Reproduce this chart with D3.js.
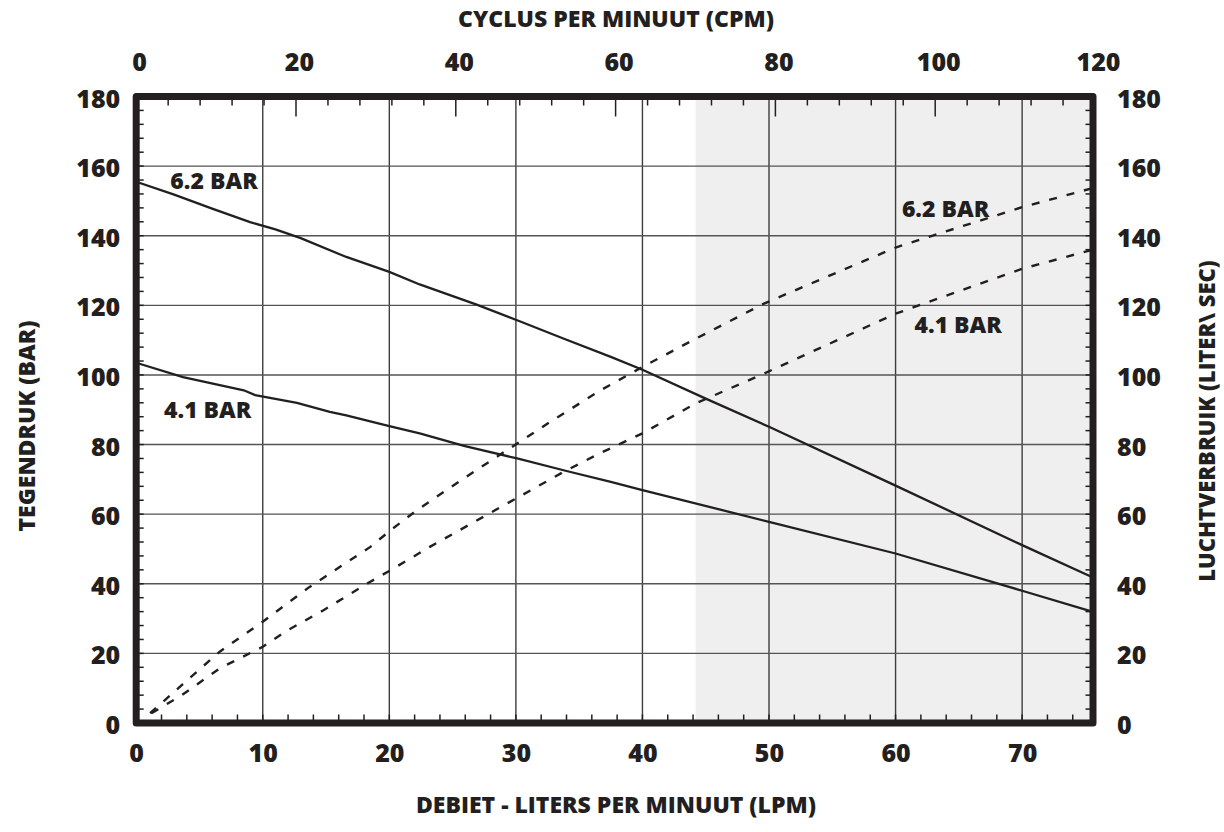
<!DOCTYPE html>
<html>
<head>
<meta charset="utf-8">
<script src="https://cdn.jsdelivr.net/npm/d3@7"></script>
<style>
  html, body { margin: 0; padding: 0; background: #ffffff; }
  svg { display: block; }
  text { font-family: "Open Sans", "DejaVu Sans", sans-serif; font-weight: 800; fill: #231f20; }
</style>
</head>
<body>
<svg id="chart" width="1224" height="832"></svg>
<script>
// Flow (LPM) versus back pressure (BAR) at two inlet air pressures
const pressure62 = [[0,155.5],[3,151.8],[6,147.8],[9,143.9],[11,141.8],[13,139.3],[16.6,133.9],[20,129.6],[22.4,126],[26.9,120.2],[30.1,115.7],[33.8,110.4],[37.5,105.2],[40,101.5],[45,93.2],[50,85.1],[60,68.2],[70,51.1],[75.6,41.8]];
const pressure41 = [[0,103.5],[3.7,99.4],[8.5,95.6],[9.4,94.2],[12.7,92],[15.3,89.4],[16.6,88.4],[20,85.3],[22.4,83.2],[25.9,79.6],[30.1,76],[34,72.4],[37.5,69.3],[40,66.9],[50,57.8],[60,48.7],[70,38],[75.6,31.9]];

// Flow (LPM) versus air consumption (LITER\ SEC)
const air62 = [[1.1,2.8],[3.6,10.9],[6.6,20.5],[10,29.1],[13.7,39.1],[18.5,50.6],[20.1,55.4],[22.2,61.2],[25.9,70.3],[30.1,80.3],[32.7,86.5],[36.7,95.6],[40,102.3],[44.2,110.4],[49.6,120.5],[56.7,131.5],[60,136.6],[63,140.1],[70,148.2],[75.6,153.7]];
const air41 = [[1.2,2.8],[3.6,8],[6.6,15.7],[10,21.9],[11.9,26.5],[14.8,32.4],[18.5,40.6],[20.1,43.9],[23.2,50.6],[30.1,64.7],[34,72.6],[36.7,77.6],[40,83.2],[44.2,91.8],[49.6,100.4],[60,117.6],[70,130.5],[75.6,136]];

// Axis ticks
const flowTicks = [0,10,20,30,40,50,60,70];
const cpmTicks = [0,20,40,60,80,100,120];
const pressureTicks = [0,20,40,60,80,100,120,140,160,180];
const airTicks = [0,20,40,60,80,100,120,140,160,180];
const flowMax = 75.6;
const cpmMax = 120;
const shadeStart = 44.2;

const curveLabels = [
  { text: "6.2 BAR", x: 2.7, y: 153.5, anchor: "start" },
  { text: "4.1 BAR", x: 2.2, y: 87.5, anchor: "start" },
  { text: "6.2 BAR", x: 60.5, y: 145.5, anchor: "start" },
  { text: "4.1 BAR", x: 61.5, y: 112, anchor: "start" }
];

const titles = {
  top: "CYCLUS PER MINUUT (CPM)",
  bottom: "DEBIET - LITERS PER MINUUT (LPM)",
  left: "TEGENDRUK (BAR)",
  right: "LUCHTVERBRUIK (LITER\\ SEC)"
};

const svg = d3.select("#chart");
const L = 136.2, R = 1093, T = 96.5, B = 723;
const ink = "#231f20";

const x = d3.scaleLinear().domain([0, flowMax]).range([L, R]);
const xTop = d3.scaleLinear().domain([0, cpmMax]).range([L, 1095]);
const yLeft = d3.scaleLinear().domain([0, 180]).range([B, T]);
const yRight = d3.scaleLinear().domain([0, 180]).range([B, T]);

// Shaded operating zone
svg.append("rect")
  .attr("x", x(shadeStart)).attr("y", T)
  .attr("width", x(flowMax) - x(shadeStart)).attr("height", B - T)
  .attr("fill", "#efefef");

// Grid
const grid = svg.append("g").attr("stroke", "#3d3d3d").attr("stroke-width", 1.4);
grid.selectAll("line.v").data(flowTicks.filter(d => d > 0))
  .join("line").attr("class", "v")
  .attr("x1", d => x(d)).attr("x2", d => x(d)).attr("y1", T).attr("y2", B);
grid.selectAll("line.h").data(pressureTicks.filter(d => d > 0 && d < 180))
  .join("line").attr("class", "h")
  .attr("stroke", "#555")
  .attr("x1", L).attr("x2", R).attr("y1", d => yLeft(d)).attr("y2", d => yLeft(d));

// Minor ticks along the frame
const minor = svg.append("g").attr("stroke", ink).attr("stroke-width", 1.5);
const flowMinor = d3.range(2, flowMax, 2);
minor.selectAll("line.b").data(flowMinor).join("line").attr("class", "b")
  .attr("x1", d => x(d)).attr("x2", d => x(d)).attr("y1", B).attr("y2", B - 8.5);
const cpmMinor = d3.range(4, cpmMax, 4);
minor.selectAll("line.t").data(cpmMinor).join("line").attr("class", "t")
  .attr("x1", d => xTop(d)).attr("x2", d => xTop(d)).attr("y1", T)
  .attr("y2", d => T + (d % 20 === 0 ? 20 : 9));
const yMinor = d3.range(4, 180, 4);
minor.selectAll("line.l").data(yMinor).join("line").attr("class", "l")
  .attr("x1", L).attr("x2", L + 7.5).attr("y1", d => yLeft(d)).attr("y2", d => yLeft(d));
minor.selectAll("line.r").data(yMinor).join("line").attr("class", "r")
  .attr("x1", R).attr("x2", R - 7.5).attr("y1", d => yRight(d)).attr("y2", d => yRight(d));

// Curves
const linePressure = d3.line().x(d => x(d[0])).y(d => yLeft(d[1]));
const lineAir = d3.line().x(d => x(d[0])).y(d => yRight(d[1]));
const curves = svg.append("g").attr("fill", "none").attr("stroke", ink);
curves.append("path").datum(pressure62).attr("d", linePressure).attr("stroke-width", 2.3);
curves.append("path").datum(pressure41).attr("d", linePressure).attr("stroke-width", 2.3);
curves.append("path").datum(air62).attr("d", lineAir).attr("stroke-width", 2.4).attr("stroke-dasharray", "8,10");
curves.append("path").datum(air41).attr("d", lineAir).attr("stroke-width", 2.4).attr("stroke-dasharray", "8,10");

// Frame
svg.append("rect")
  .attr("x", L).attr("y", T).attr("width", R - L).attr("height", B - T)
  .attr("fill", "none").attr("stroke", ink).attr("stroke-width", 7)
  .attr("stroke-linejoin", "round");

// Axes (labels only; frame and ticks drawn separately)
const fs = "25px";
const axB = svg.append("g").attr("transform", `translate(0,${B})`)
  .call(d3.axisBottom(x).tickValues(flowTicks).tickSize(0).tickPadding(21).tickFormat(d3.format("d")));
const axT = svg.append("g").attr("transform", `translate(0,${T})`)
  .call(d3.axisTop(xTop).tickValues(cpmTicks).tickSize(0).tickPadding(26).tickFormat(d3.format("d")));
const axL = svg.append("g").attr("transform", `translate(${L},0)`)
  .call(d3.axisLeft(yLeft).tickValues(pressureTicks).tickSize(0).tickPadding(16).tickFormat(d3.format("d")));
const axR = svg.append("g").attr("transform", `translate(${R},0)`)
  .call(d3.axisRight(yRight).tickValues(airTicks).tickSize(0).tickPadding(24).tickFormat(d3.format("d")));
[axB, axT, axL, axR].forEach(g => {
  g.select(".domain").remove();
  g.selectAll("text").attr("font-size", fs)
    .attr("font-family", "'Open Sans', sans-serif").attr("font-weight", 800).attr("fill", ink);
});
axL.selectAll("text").attr("dy", "0.62em").attr("y", -5);
axR.selectAll("text").attr("dy", "0.62em").attr("y", -5);
axT.selectAll("text").attr("dx", 3);

// Curve labels
svg.append("g").selectAll("text").data(curveLabels).join("text")
  .attr("x", d => x(d.x)).attr("y", d => yLeft(d.y))
  .attr("text-anchor", d => d.anchor)
  .attr("font-size", "23px")
  .text(d => d.text);

// Axis titles
svg.append("text").attr("x", 616).attr("y", 27).attr("text-anchor", "middle")
  .attr("font-size", "23px").text(titles.top);
svg.append("text").attr("x", 616).attr("y", 813).attr("text-anchor", "middle")
  .attr("font-size", "23px").text(titles.bottom);
svg.append("text").attr("transform", "translate(35,426) rotate(-90)").attr("text-anchor", "middle")
  .attr("font-size", "23px").text(titles.left);
svg.append("text").attr("transform", "translate(1215,421) rotate(-90)").attr("text-anchor", "middle")
  .attr("font-size", "22px").text(titles.right);
</script>
</body>
</html>
